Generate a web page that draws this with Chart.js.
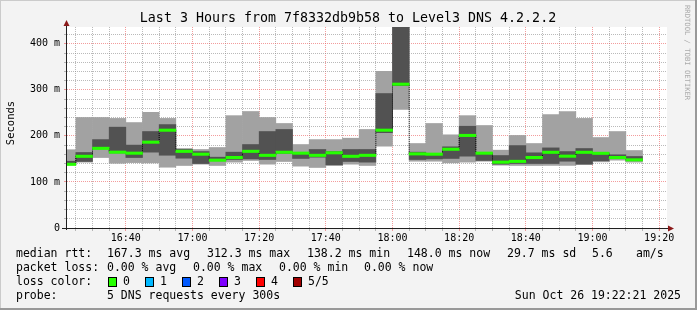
<!DOCTYPE html>
<html>
<head>
<meta charset="utf-8">
<script src="https://cdn.jsdelivr.net/npm/chart.js@4.4.1/dist/chart.umd.min.js"></script>
<style>
  html, body { margin: 0; padding: 0; background: #f3f3f3; }
  canvas { display: block; }
</style>
</head>
<body>
<canvas id="smoke" width="697" height="310"></canvas>
<script>
// ----- data: one entry per 5 minute slot (label = end of slot) -----
const slotEnds = ['16:25', '16:30', '16:35', '16:40', '16:45', '16:50', '16:55',
  '17:00', '17:05', '17:10', '17:15', '17:20', '17:25', '17:30', '17:35', '17:40', '17:45', '17:50', '17:55',
  '18:00', '18:05', '18:10', '18:15', '18:20', '18:25', '18:30', '18:35', '18:40', '18:45', '18:50', '18:55',
  '19:00', '19:05', '19:10', '19:15'];

// sorted pings per slot, in ms (5 requests: min, 2nd, median, 4th, max)
const pingMin = [137, 143, 153, 140.5, 142, 141.5, 132, 135.7, 138.6, 135.7, 143, 146.6, 138.6, 144.4, 134.3, 131.4, 135.7, 138.6,
  135.7, 177.7, 257.3, 145, 145, 141.5, 143, 145, 136.4, 135.7, 135.7, 135.7, 135.7, 138, 143.7, 147.3, 143];
const pingLo = [138, 144.5, 172, 163, 153, 164.7, 158, 151.6, 140, 146, 148.7, 150, 148.7, 162, 151, 153.8, 137.2, 144.4,
  143, 207, 309, 148.7, 150, 151, 156, 146.6, 138.6, 140, 140, 140, 145, 138.6, 146, 151, 146.6];
const median = [138.3, 155.7, 173, 164.7, 162.5, 186.4, 212.4, 166.5, 160.3, 147.3, 153, 166.5, 157.8, 164.5, 162.5, 157.8, 163.3, 155.7,
  157.8, 212.4, 312.3, 161, 160.3, 171, 201, 162.5, 143, 144.7, 153, 164.4, 156, 164.4, 162.2, 153, 148];
const pingHi = [145, 164, 192, 219, 180, 209.5, 224.6, 170.5, 166, 153.8, 164.7, 181.3, 209.5, 214, 163.5, 170.5, 166, 170.5,
  170.5, 292, 480, 164.7, 161, 176.3, 221, 163, 157.4, 179, 163.3, 174, 166, 172.6, 163, 159, 155.3];
const pingMax = [170, 240, 240, 238, 229, 251, 238, 172.6, 170.5, 174.8, 244, 253, 240, 227, 181.3, 192, 192, 195,
  214, 340, 520, 183.5, 227, 202.4, 244, 222.6, 169, 201, 183.5, 246.5, 253, 238, 196.5, 209.5, 168.3];

// axis labels
const xTickLabels = ['16:40', '17:00', '17:20', '17:40', '18:00', '18:20', '18:40', '19:00', '19:20'];
const yTickValues = [0, 100, 200, 300, 400];
const yTickLabels = ['0', '100 m', '200 m', '300 m', '400 m'];

// legend text
const titleText = 'Last 3 Hours from 7f8332db9b58 to Level3 DNS 4.2.2.2';
const rttParts = ['167.3 ms avg', '312.3 ms max', '138.2 ms min', '148.0 ms now', '29.7 ms sd', '5.6', 'am/s'];
const lossParts = ['0.00 % avg', '0.00 % max', '0.00 % min', '0.00 % now'];
const lossLabels = ['0', '1', '2', '3', '4', '5/5'];
const lossColors = ['#26ff00', '#00b8ff', '#0059ff', '#7e00ff', '#ff0000', '#a10000'];
const probeText = '5 DNS requests every 300s';
const stampText = 'Sun Oct 26 19:22:21 2025';
const creditText = 'RRDTOOL / TOBI OETIKER';

// ----- helpers -----
const MONO = "'DejaVu Sans Mono', monospace";
const SLOT = 5;
const toMin = s => { const [h, m] = s.split(':').map(Number); return h * 60 + m; };
const X_MAX = toMin('19:22') + 21 / 60;
const X_MIN = X_MAX - 180;
const Y_MAX = 436.5;
const MED_HALF = 2.6;

const GRID = 'rgba(140, 140, 140, 0.6)';
const MGRID = 'rgba(235, 90, 90, 0.6)';
const LIGHT = '#a2a2a2';
const DARK = '#525252';

const ends = slotEnds.map(toMin);
const mids = ends.map(e => e - SLOT / 2);
const majorX = xTickLabels.map(toMin);

const xGrid = [];
for (let v = Math.ceil(X_MIN / SLOT) * SLOT; v <= X_MAX; v += SLOT) xGrid.push(v);
const yGrid = [];
for (let v = 0; v < Y_MAX; v += 20) yGrid.push(v);

const isMajorX = v => majorX.includes(Math.round(v));
const isMajorY = v => yTickValues.includes(Math.round(v));

const floating = (lo, hi) => mids.map((x, i) => ({ x, y: [lo[i], hi[i]] }));
const stepPts = ends.map((e, i) => ({ x: e - SLOT, y: median[i] }));
stepPts.push({ x: ends[ends.length - 1], y: median[median.length - 1] });

// ----- background, axes, text -----
const rrdFrame = {
  id: 'rrdFrame',
  beforeDraw(chart) {
    const { ctx, chartArea: a, width, height } = chart;
    ctx.save();
    ctx.fillStyle = '#f3f3f3';
    ctx.fillRect(0, 0, width, height);
    ctx.fillStyle = '#ffffff';
    ctx.fillRect(a.left, a.top, a.right - a.left, a.bottom - a.top);
    ctx.restore();
  },
  afterDatasetsDraw(chart) {
    const { ctx, chartArea: a } = chart;
    ctx.save();
    ctx.strokeStyle = '#202020';
    ctx.lineWidth = 1;
    ctx.beginPath();
    ctx.moveTo(a.left - 0.5, a.bottom + 2);
    ctx.lineTo(a.left - 0.5, a.top - 3);
    ctx.moveTo(a.left - 5, a.bottom + 0.5);
    ctx.lineTo(a.right + 3, a.bottom + 0.5);
    ctx.stroke();
    ctx.fillStyle = '#8b1a1a';
    ctx.beginPath();
    ctx.moveTo(a.left - 0.5, a.top - 7);
    ctx.lineTo(a.left - 3.5, a.top - 1);
    ctx.lineTo(a.left + 2.5, a.top - 1);
    ctx.fill();
    ctx.beginPath();
    ctx.moveTo(a.right + 7, a.bottom + 0.5);
    ctx.lineTo(a.right + 1, a.bottom - 2.5);
    ctx.lineTo(a.right + 1, a.bottom + 3.5);
    ctx.fill();
    ctx.restore();
  },
  afterDraw(chart) {
    const { ctx, width, height } = chart;
    ctx.save();
    // frame
    ctx.fillStyle = '#cbcbcb';
    ctx.fillRect(0, 0, width, 1);
    ctx.fillRect(0, 0, 1, height);
    ctx.fillStyle = '#999999';
    ctx.fillRect(width - 2, 0, 2, height);
    ctx.fillRect(0, height - 2, width, 2);

    ctx.fillStyle = '#000';
    ctx.textBaseline = 'middle';
    ctx.textAlign = 'center';
    ctx.font = '13.3px ' + MONO;
    ctx.fillText(titleText, 348, 19);

    // y title
    ctx.save();
    ctx.translate(11, 123);
    ctx.rotate(-Math.PI / 2);
    ctx.font = '10.5px ' + MONO;
    ctx.fillText('Seconds', 0, 0);
    ctx.restore();

    // credit on the right
    ctx.save();
    ctx.translate(687, 5);
    ctx.rotate(Math.PI / 2);
    ctx.textAlign = 'left';
    ctx.fillStyle = '#aaaaaa';
    ctx.font = '7.2px ' + MONO;
    ctx.fillText(creditText, 0, 0);
    ctx.restore();

    // legend
    ctx.textAlign = 'left';
    ctx.font = '11.5px ' + MONO;
    ctx.fillText('median rtt:', 16, 254);
    [107, 207, 307, 407, 507, 592, 636].forEach((x, i) => ctx.fillText(rttParts[i], x, 254));
    ctx.fillText('packet loss:', 16, 268);
    [107, 193, 279, 364].forEach((x, i) => ctx.fillText(lossParts[i], x, 268));
    ctx.fillText('loss color:', 16, 282);
    lossLabels.forEach((lab, i) => {
      const bx = 108 + i * 37;
      ctx.fillStyle = lossColors[i];
      ctx.fillRect(bx, 277, 9, 10);
      ctx.strokeStyle = '#000';
      ctx.lineWidth = 1;
      ctx.strokeRect(bx + 0.5, 277.5, 8, 9);
      ctx.fillStyle = '#000';
      ctx.fillText(lab, bx + 15, 282);
    });
    ctx.fillText('probe:', 16, 296);
    ctx.fillText(probeText, 107, 296);
    ctx.textAlign = 'right';
    ctx.fillText(stampText, 681, 296);
    ctx.restore();
  }
};

Chart.defaults.font.family = MONO;
Chart.defaults.color = '#000';

new Chart(document.getElementById('smoke'), {
  type: 'bar',
  data: {
    datasets: [
      { label: 'median', data: floating(median.map(m => m - MED_HALF), median.map(m => m + MED_HALF)),
        backgroundColor: lossColors[0], order: 1 },
      { label: 'median step', type: 'line', data: stepPts, stepped: true, borderColor: '#000',
        borderWidth: 1, borderDash: [1, 1], pointRadius: 0, order: 2 },
      { label: 'inner smoke', data: floating(pingLo, pingHi), backgroundColor: DARK, order: 3 },
      { label: 'outer smoke', data: floating(pingMin, pingMax), backgroundColor: LIGHT, order: 4 }
    ]
  },
  options: {
    responsive: false,
    animation: false,
    layout: { padding: { left: 0, top: 27, right: 30, bottom: 0 } },
    datasets: { bar: { grouped: false, barPercentage: 1, categoryPercentage: 1 } },
    plugins: { legend: { display: false }, tooltip: { enabled: false } },
    scales: {
      x: {
        type: 'linear', min: X_MIN, max: X_MAX, offset: false,
        afterBuildTicks: s => { s.ticks = xGrid.map(v => ({ value: v })); },
        afterFit: s => { s.height = 82; },
        grid: {
          offset: false, lineWidth: 1, tickLength: 3,
          color: c => (c.tick && isMajorX(c.tick.value) ? MGRID : GRID),
          tickColor: c => (c.tick && isMajorX(c.tick.value) ? MGRID : GRID)
        },
        border: { display: false, dash: [1, 1] },
        ticks: {
          autoSkip: false, maxRotation: 0, padding: 1, font: { size: 10 },
          callback: v => { const k = majorX.indexOf(Math.round(v)); return k < 0 ? '' : xTickLabels[k]; }
        }
      },
      y: {
        min: 0, max: Y_MAX,
        afterBuildTicks: s => { s.ticks = yGrid.map(v => ({ value: v })); },
        afterFit: s => { s.width = 67; },
        grid: {
          lineWidth: 1, tickLength: 3,
          color: c => (c.tick && isMajorY(c.tick.value) ? MGRID : GRID),
          tickColor: c => (c.tick && isMajorY(c.tick.value) ? MGRID : GRID)
        },
        border: { display: false, dash: [1, 1] },
        ticks: {
          autoSkip: false, padding: 4, font: { size: 10 },
          callback: v => { const k = yTickValues.indexOf(Math.round(v)); return k < 0 ? '' : yTickLabels[k]; }
        }
      }
    }
  },
  plugins: [rrdFrame]
});
</script>
</body>
</html>
